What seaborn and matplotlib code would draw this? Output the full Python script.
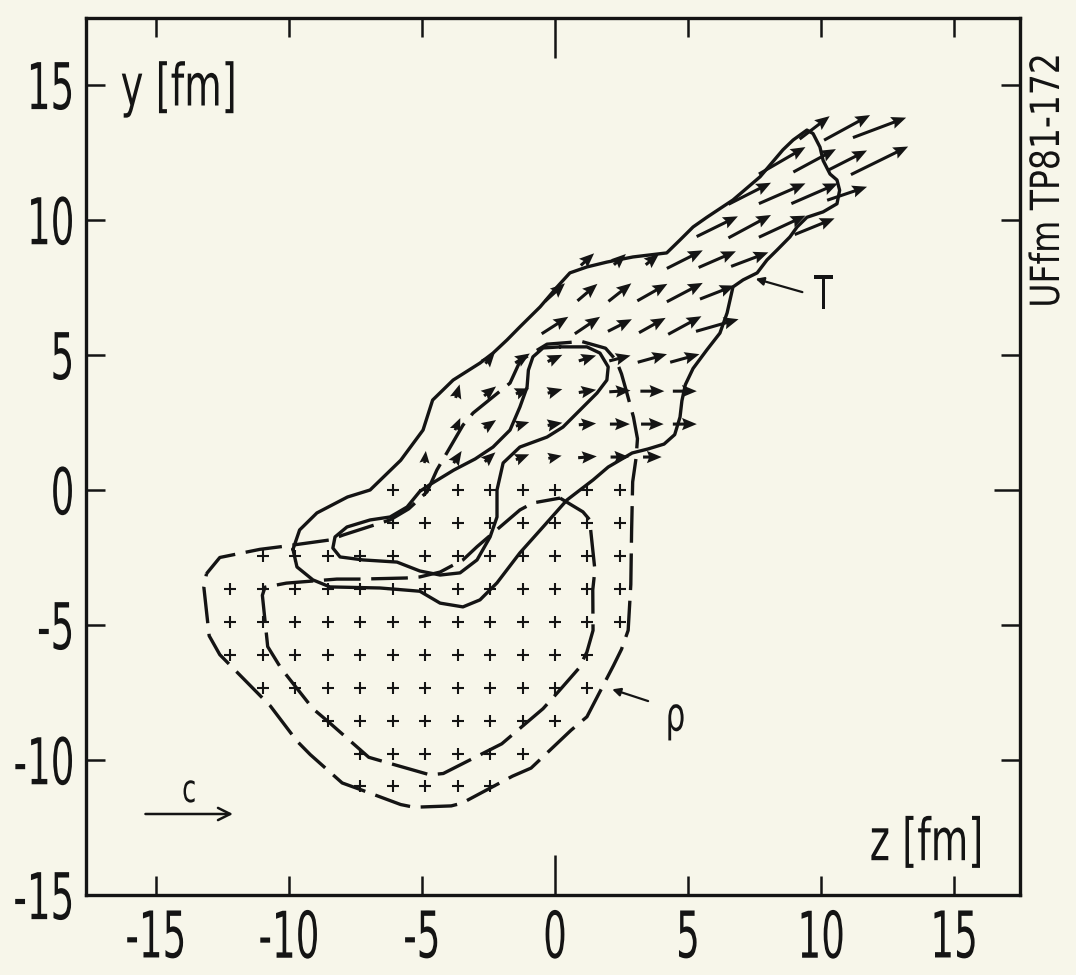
import numpy as np
import pandas as pd
import matplotlib
matplotlib.use("Agg")
import matplotlib.pyplot as plt
import seaborn as sns
from matplotlib import patheffects
from matplotlib.transforms import Affine2D

# ---------------- data ----------------
GRID = 1.22  # lattice spacing of the plotted field [fm]

# rows (in lattice units) carrying "+" marks, and their column ranges
plus_rows = [0, -1, -2, -3, -4, -5, -6, -7, -8, -9]
plus_col_first = [-5, -5, -9, -10, -10, -10, -9, -7, -6, -6]
plus_col_last = [2, 2, 2, 2, 2, 1, 1, 0, -1, -2]

# velocity arrows: lattice row, lattice column, components (fm)
arrow_row = [1]*8 + [2]*8 + [3]*8 + [4]*7 + [5]*6 + [6]*6 + [7]*6 + [8]*4 + [9]*4 + [10]*4 + [11]*3
arrow_col = (list(range(-4, 4)) + list(range(-3, 5)) + list(range(-3, 5)) + list(range(-2, 5))
             + list(range(0, 6)) + list(range(0, 6)) + list(range(1, 7)) + list(range(5, 9))
             + list(range(6, 10)) + list(range(7, 11)) + list(range(8, 11)))
arrow_u = [0.05, 0.30, 0.40, 0.50, 0.50, 0.70, 0.70, 0.70,
           0.20, 0.45, 0.50, 0.55, 0.65, 0.75, 0.85, 0.90,
           0.15, 0.45, 0.50, 0.55, 0.65, 0.80, 0.90, 0.90,
           0.35, 0.55, 0.55, 0.65, 0.80, 1.10, 1.10,
           1.00, 0.95, 0.90, 1.00, 1.25, 1.60,
           0.75, 0.75, 0.86, 1.13, 1.35, 1.30,
           0.50, 0.45, 0.50, 1.35, 1.40, 1.40,
           1.55, 1.60, 1.75, 1.50,
           1.60, 1.75, 1.75, 1.50,
           1.75, 1.60, 1.50, 2.15,
           1.13, 1.73, 2.00]
arrow_v = [0.45, 0.45, 0.35, 0.20, 0.10, 0.05, 0.00, 0.00,
           0.45, 0.30, 0.15, 0.10, 0.05, 0.00, 0.00, 0.00,
           0.50, 0.35, 0.20, 0.15, 0.10, 0.05, 0.00, 0.00,
           0.40, 0.35, 0.25, 0.20, 0.20, 0.30, 0.30,
           0.63, 0.63, 0.45, 0.55, 0.67, 0.45,
           0.67, 0.63, 0.67, 0.63, 0.70, 0.50,
           0.45, 0.40, 0.40, 0.67, 0.60, 0.52,
           0.75, 0.85, 0.80, 0.60,
           0.80, 0.75, 0.75, 0.50,
           1.00, 0.85, 0.75, 1.04,
           0.85, 0.93, 0.74]

# temperature contours T (solid)
T_outer_z = [-9.85, -9.6, -8.95, -7.8, -6.95, -5.8, -4.96, -4.6, -3.83, -2.82, -2.33, -1.8, -1.32,
             -0.56, 0.08, 0.56, 1.2, 1.95, 2.93, 4.2, 4.7, 5.19, 5.71, 6.69, 7.71, 8.57, 8.95, 9.47,
             9.7, 9.96, 10.08, 10.34, 10.6, 10.7, 10.6, 10.08, 9.47, 9.1, 8.83, 8.35, 7.97, 7.6, 7.07,
             6.69, 6.58, 6.47, 6.2, 5.71, 5.19, 4.9, 4.77, 4.7, 4.5, 4.1, 3.5, 2.9, 2.0, 1.43, 0.45,
             -0.45, -1.32, -2.18, -2.82, -3.46, -4.32, -5.08, -6.58, -8.46, -9.1, -9.7]
T_outer_y = [-2.2, -1.48, -0.85, -0.26, 0.0, 1.1, 2.22, 3.33, 4.07, 4.7, 5.07, 5.56, 6.04,
             6.78, 7.52, 8.04, 8.26, 8.44, 8.63, 8.78, 9.26, 9.74, 10.1, 10.74, 11.6, 12.6, 12.96, 13.33,
             13.2, 12.7, 12.2, 11.7, 11.48, 11.1, 10.6, 10.3, 10.1, 9.74, 9.37, 8.89, 8.52, 8.04, 7.78,
             7.52, 7.04, 6.56, 5.81, 5.19, 4.5, 3.9, 3.3, 2.7, 2.05, 1.7, 1.52, 1.37, 0.85, 0.37, -0.37,
             -1.37, -2.33, -3.44, -4.07, -4.33, -4.19, -3.75, -3.63, -3.59, -3.33, -2.85]
T_inner_z = [0.19, 1.2, 1.69, 2.0, 1.95, 1.58, 0.94, 0.3, -0.3, -1.32, -1.95, -2.18, -2.18, -2.44,
             -2.93, -3.57, -4.32, -5.08, -5.94, -7.22, -8.08, -8.35, -8.27, -7.82, -6.95, -6.2, -5.56,
             -5.08, -4.7, -3.8, -3.0, -2.33, -1.69, -1.32, -1.05, -1.0, -0.83, -0.45]
T_inner_y = [5.3, 5.3, 5.07, 4.56, 4.07, 3.59, 2.96, 2.33, 1.96, 1.59, 1.0, 0.0, -1.0, -1.74,
             -2.59, -3.07, -3.15, -3.0, -2.67, -2.59, -2.48, -2.15, -1.74, -1.37, -1.11, -1.0, -0.63,
             -0.05, 0.2, 0.74, 1.15, 1.59, 2.22, 3.07, 3.81, 4.44, 4.93, 5.26]

# density contours rho (dashed)
R_outer_z = [-13.1, -12.6, -11.1, -10.3, -8.46, -7.97, -6.2, -5.5, -4.81, -4.44, -3.46, -3.08, -1.69,
             -1.3, -0.3, 1.0, 1.9, 2.3, 2.5, 2.7, 2.95, 3.1, 3.05, 2.92, 2.88, 2.85, 2.75, 2.5, 2.2, 1.2,
             0.6, -0.9, -1.6, -3.5, -3.9, -5.3, -5.8, -7.3, -8.0, -9.2, -9.7, -10.7, -11.3, -12.6, -13.0,
             -13.2]
R_outer_y = [-3.1, -2.5, -2.2, -2.1, -1.85, -1.67, -1.11, -0.7, -0.07, 0.74, 2.4, 2.85, 3.96,
             4.8, 5.4, 5.5, 5.25, 4.8, 4.3, 3.6, 2.7, 1.9, 1.2, 0.3, -1.5, -3.5, -5.2, -5.9, -6.5, -8.4,
             -8.9, -10.3, -10.6, -11.6, -11.7, -11.75, -11.65, -11.1, -10.85, -9.8, -9.3, -8.0, -7.4, -6.1,
             -5.4, -3.6]
R_inner_z = [0.19, 1.05, 1.3, 1.5, 1.42, 1.43, 1.2, 0.9, 0.1, -0.45, -2.0, -2.6, -4.2, -4.7, -6.3,
             -7.0, -8.5, -9.1, -10.3, -10.8, -11.0, -10.9, -10.1, -8.2, -7.3, -5.6, -5.08, -4.32, -3.46,
             -2.93, -1.32, -0.83]
R_inner_y = [-0.3, -0.81, -1.1, -2.96, -3.7, -5.2, -6.0, -6.6, -7.5, -8.1, -9.4, -9.7, -10.5, -10.55,
             -10.1, -9.9, -8.6, -8.1, -6.6, -5.8, -3.9, -3.6, -3.45, -3.3, -3.3, -3.26, -3.22, -3.04, -2.59,
             -2.1, -0.74, -0.48]

x_ticks = [-15, -10, -5, 0, 5, 10, 15]
y_ticks = [-15, -10, -5, 0, 5, 10, 15]

# ---------------- styling helpers ----------------
class Stretch(patheffects.AbstractPathEffect):
    """Draw text condensed / elongated (the original uses a narrow, tall face)."""
    def __init__(self, sx, sy=1.0, hanchor="center", vanchor="base"):
        super().__init__()
        self._sx, self._sy = sx, sy
        self._h, self._v = hanchor, vanchor

    def draw_path(self, renderer, gc, tpath, affine, rgbFace=None):
        ext = tpath.get_extents()
        cx = {"left": ext.x0, "right": ext.x1}.get(self._h, 0.5 * (ext.x0 + ext.x1))
        cy = {"top": ext.y1, "center": 0.5 * (ext.y0 + ext.y1)}.get(self._v, 0.0)
        tr = (Affine2D().translate(-cx, -cy).scale(self._sx, self._sy).translate(cx, cy)
              + affine)
        renderer.draw_path(gc, tpath, tr, rgbFace)


sns.set_theme(style="ticks")
plt.rcParams["font.family"] = ["DejaVu Sans"]
PAPER = "#f7f6ea"
INK = "#141414"

fig = plt.figure(figsize=(10.76, 9.75), dpi=100, facecolor=PAPER)
ax = fig.add_axes([86 / 1076, 80 / 975, 934 / 1076, 877 / 975])
ax.set_facecolor(PAPER)

# "+" marks
pz, py = [], []
for r, c0, c1 in zip(plus_rows, plus_col_first, plus_col_last):
    for c in range(c0, c1 + 1):
        pz.append(c * GRID)
        py.append(r * GRID)
plus_df = pd.DataFrame({"z": pz, "y": py})
sns.scatterplot(data=plus_df, x="z", y="y", marker="+", s=75, color=INK,
                linewidth=1.5, ax=ax, legend=False, zorder=2)

# arrows
arr = pd.DataFrame({"z": np.array(arrow_col) * GRID, "y": np.array(arrow_row) * GRID,
                    "u": arrow_u, "v": arrow_v})
ax.quiver(arr["z"], arr["y"], arr["u"], arr["v"], angles="xy", scale_units="xy", scale=1,
          pivot="middle", width=0.0033, headwidth=4.0, headlength=4.8, headaxislength=4.2,
          color=INK, zorder=3)

# contours
def closed(zs, ys):
    return list(zs) + [zs[0]], list(ys) + [ys[0]]

for zs, ys in [(T_outer_z, T_outer_y), (T_inner_z, T_inner_y)]:
    cz, cy = closed(zs, ys)
    sns.lineplot(x=cz, y=cy, sort=False, estimator=None, color=INK, lw=2.4, ax=ax, zorder=4)
for zs, ys in [(R_outer_z, R_outer_y), (R_inner_z, R_inner_y)]:
    cz, cy = closed(zs, ys)
    sns.lineplot(x=cz, y=cy, sort=False, estimator=None, color=INK, lw=2.4,
                 linestyle=(0, (11, 3.2)), ax=ax, zorder=4)

# pointers and labels
ax.annotate("", xy=(7.44, 7.85), xytext=(9.4, 7.3),
            arrowprops=dict(arrowstyle="-|>", color=INK, lw=1.6, mutation_scale=12))
ax.annotate("", xy=(2.05, -7.35), xytext=(3.6, -7.85),
            arrowprops=dict(arrowstyle="-|>", color=INK, lw=1.6, mutation_scale=12))
ax.annotate("", xy=(-12.0, -12.0), xytext=(-15.5, -12.0),
            arrowprops=dict(arrowstyle="->", color=INK, lw=1.8, mutation_scale=22))

labels = [
    ax.text(9.75, 7.15, "T", fontsize=34, color=INK, ha="left", va="center"),
    ax.text(4.1, -8.45, "ρ", fontsize=34, color=INK, ha="left", va="center"),
    ax.text(-13.75, -11.15, "c", fontsize=28, color=INK, ha="center", va="center"),
    ax.text(-16.35, 14.85, "y [fm]", fontsize=42, color=INK, ha="left", va="center"),
    ax.text(11.8, -13.1, "z [fm]", fontsize=42, color=INK, ha="left", va="center"),
]
for t in labels:
    t.set_path_effects([Stretch(0.66, 1.0, "left" if t.get_ha() == "left" else "center")])

side = fig.text(0.974, 0.815, "UFfm TP81-172", rotation=90, fontsize=29, color=INK,
                ha="center", va="center")
side.set_path_effects([Stretch(0.82, 1.0, "center")])

# axes frame and ticks
ax.set_xlim(-17.63, 17.48)
ax.set_ylim(-15.0, 17.48)
ax.set_xticks(x_ticks)
ax.set_xticklabels([str(v) for v in x_ticks])
ax.set_yticks(y_ticks)
ax.set_yticklabels([str(v) for v in y_ticks])
ax.set_xlabel("")
ax.set_ylabel("")
ax.tick_params(direction="in", length=14, width=1.8, color=INK, top=True, right=True,
               labelsize=32, labelcolor=INK)
ax.tick_params(axis="x", pad=10)
ax.tick_params(axis="y", pad=8)
for sp in ax.spines.values():
    sp.set_linewidth(2.4)
    sp.set_color(INK)

for tk, v in zip(ax.xaxis.get_major_ticks(), x_ticks):
    if v == 0:
        tk.tick1line.set_markersize(29)
        tk.tick2line.set_markersize(29)
for tk, v in zip(ax.yaxis.get_major_ticks(), y_ticks):
    if v == 0:
        tk.tick2line.set_markersize(19)

for lab in ax.get_xticklabels():
    lab.set_path_effects([Stretch(0.84, 1.45, "center", "top")])
for lab in ax.get_yticklabels():
    lab.set_path_effects([Stretch(0.84, 1.45, "right", "center")])

fig.savefig("out.png", dpi=100, facecolor=PAPER)
